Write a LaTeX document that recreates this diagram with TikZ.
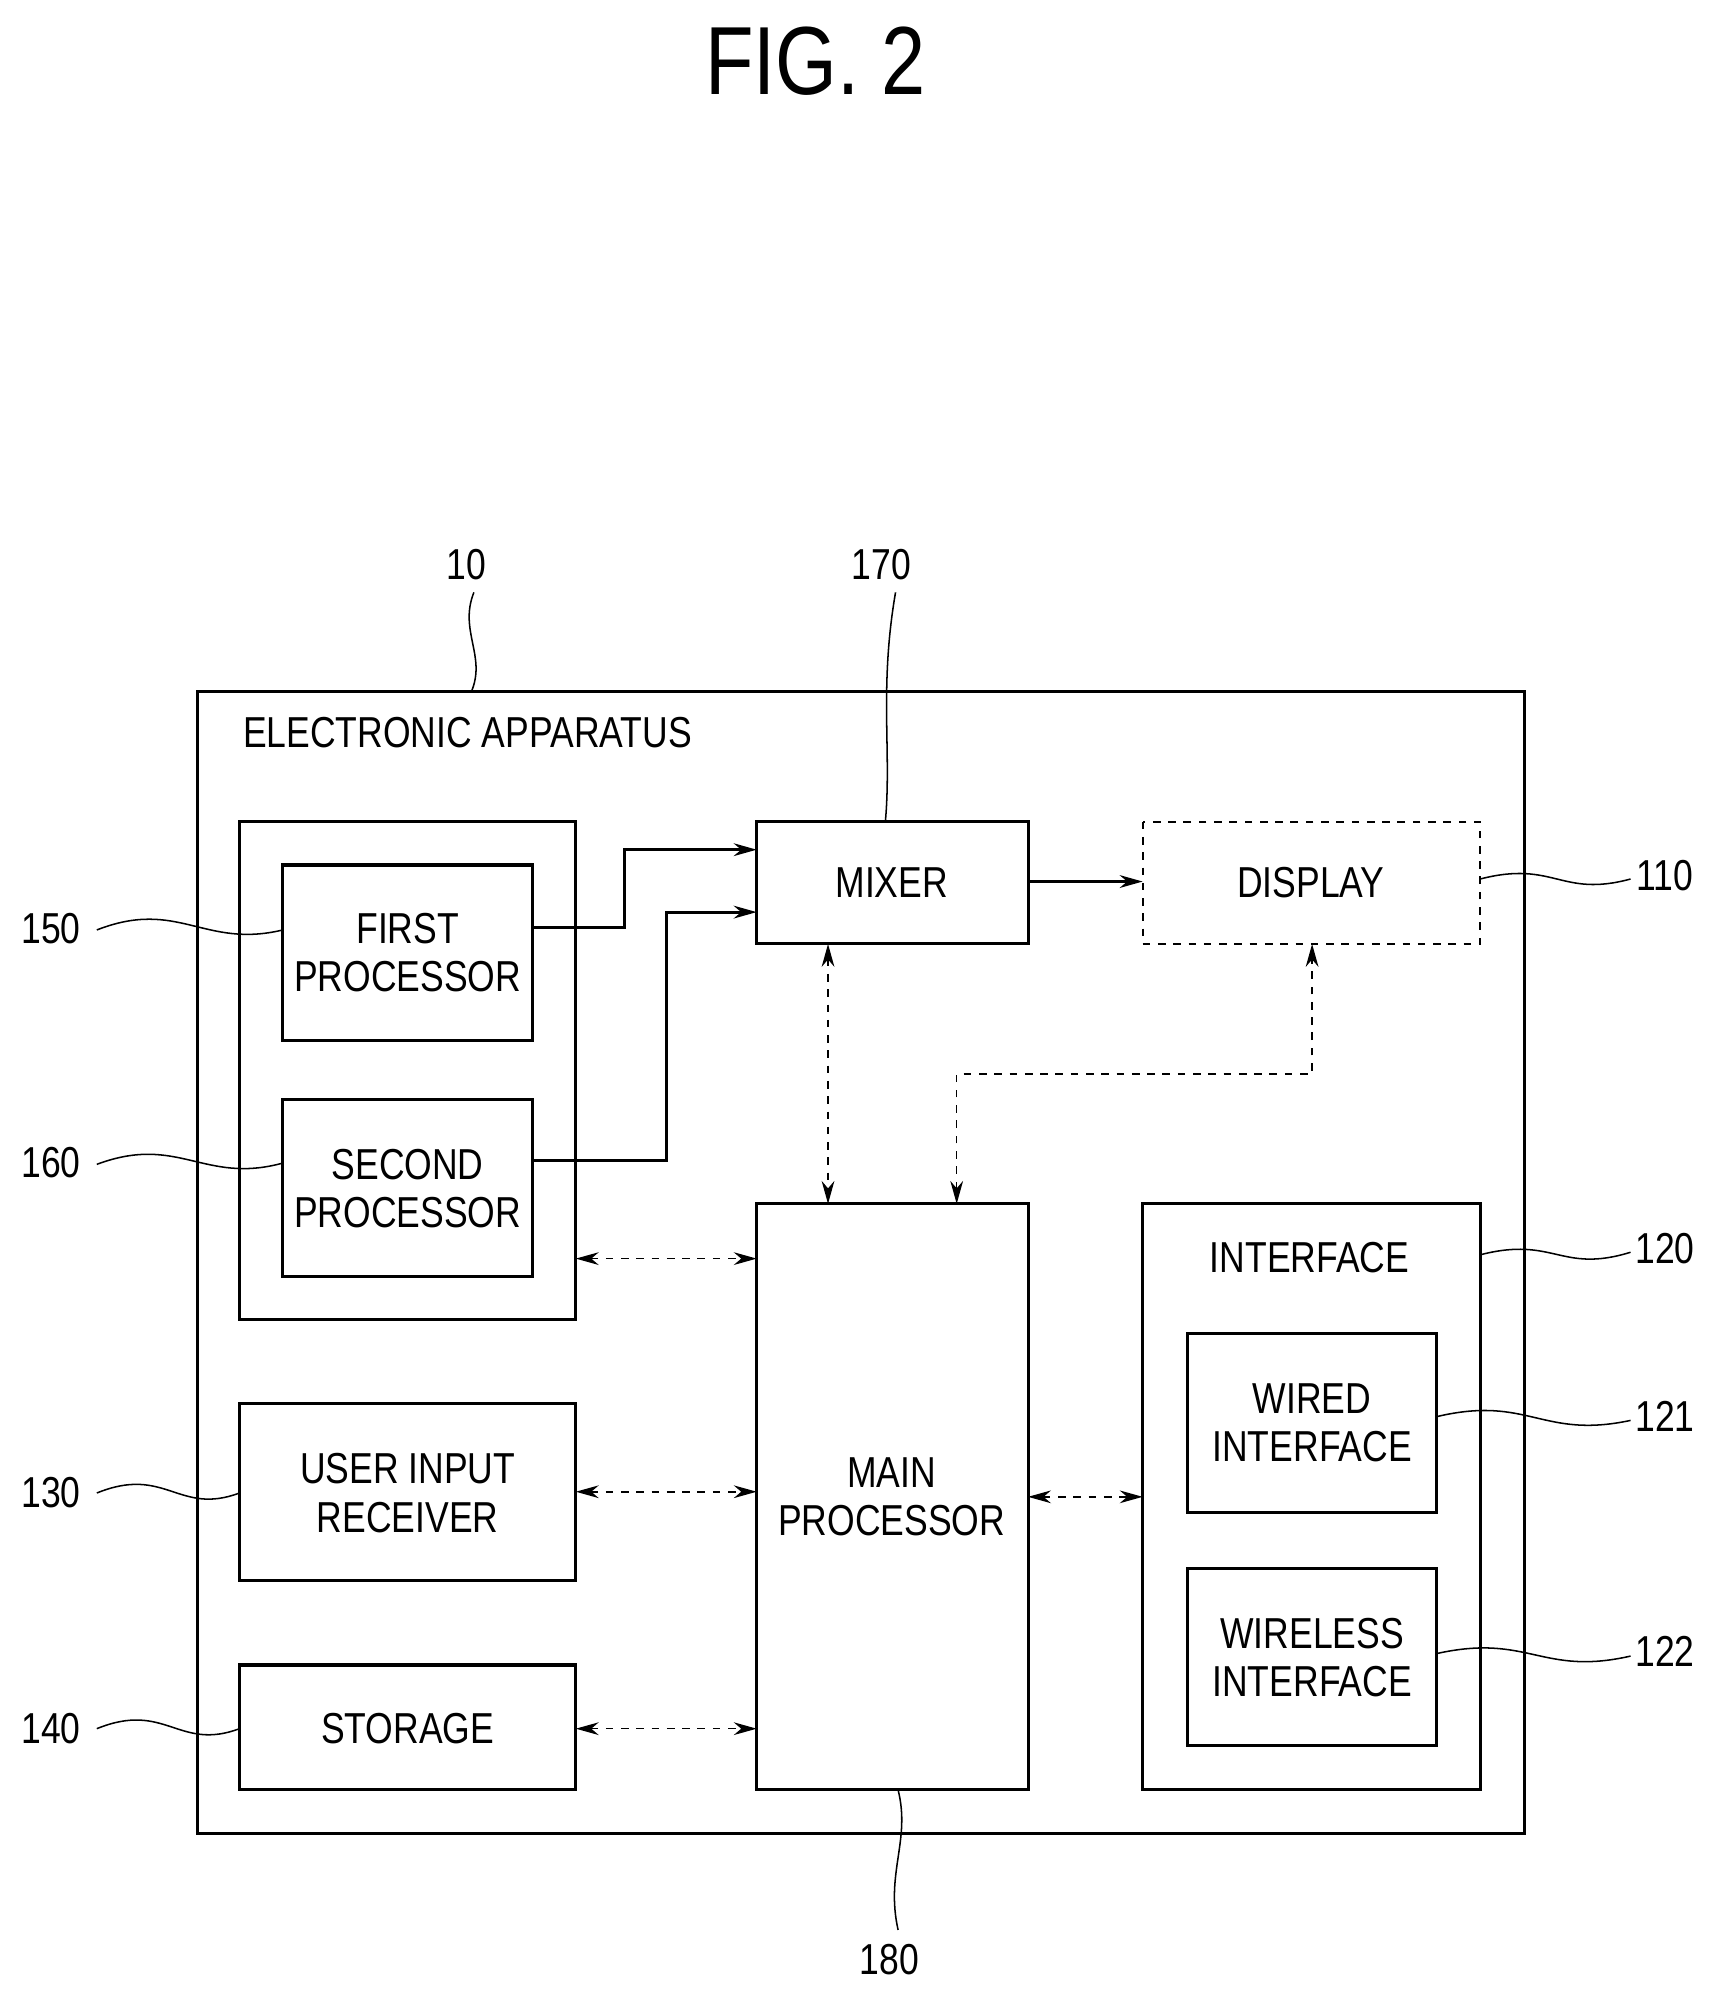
\documentclass[tikz,border=0pt]{standalone}
\usepackage{fontspec}
\setmainfont{Liberation Sans}[FakeStretch=0.82]
\usetikzlibrary{arrows.meta}
\tikzset{every picture/.style={line width=0.75pt}}
\tikzset{
  blk/.style={draw,line width=1.2pt,align=center,inner sep=0pt},
  txt/.style={font=\fontsize{17}{19}\selectfont,align=center},
  sol/.style={line width=1.2pt,-{Stealth[length=9pt,width=5pt]}},
  dsh/.style={dashed,line width=0.6pt,{Stealth[length=9pt,width=5pt]}-{Stealth[length=9pt,width=5pt]}},
  lead/.style={line width=0.6pt}
}
\begin{document}
\begin{tikzpicture}[x=0.5pt,y=0.5pt,yscale=-1,xscale=1]
\useasboundingbox (0,0) rectangle (1350,1570);

% Title
\node[font=\fontsize{38}{40}\selectfont] (title) at (640,48) {FIG. 2};

% Outer box
\draw[line width=1.2pt] (155,543) rectangle (1197,1439);
\node[txt] (app) at (367,575) {ELECTRONIC APPARATUS};

% Boxes
\draw[line width=1.2pt] (188,645) rectangle (452,1036);
\draw[line width=1.2pt] (222,679) rectangle (418,817);
\node[txt] (first) at (320,748) {FIRST\\PROCESSOR};
\draw[line width=1.2pt] (222,863) rectangle (418,1002);
\node[txt] (second) at (320,933) {SECOND\\PROCESSOR};
\draw[line width=1.2pt] (594,645) rectangle (807,741);
\node[txt] (mixer) at (700,693) {MIXER};
\draw[dashed,line width=0.8pt] (897,645) rectangle (1162,741);
\node[txt] (display) at (1029,693) {DISPLAY};
\draw[line width=1.2pt] (594,945) rectangle (807,1405);
\node[txt] (main) at (700,1175) {MAIN\\PROCESSOR};
\draw[line width=1.2pt] (897,945) rectangle (1162,1405);
\node[txt] (iface) at (1028,987) {INTERFACE};
\draw[line width=1.2pt] (932,1047) rectangle (1128,1187);
\node[txt] (wired) at (1030,1117) {WIRED\\INTERFACE};
\draw[line width=1.2pt] (932,1231) rectangle (1128,1370);
\node[txt] (wireless) at (1030,1301) {WIRELESS\\INTERFACE};
\draw[line width=1.2pt] (188,1102) rectangle (452,1241);
\node[txt] (user) at (320,1172) {USER INPUT\\RECEIVER};
\draw[line width=1.2pt] (188,1307) rectangle (452,1405);
\node[txt] (storage) at (320,1357) {STORAGE};

% Signal lines
\draw[sol] (418,728) -- (490,728) -- (490,667) -- (594,667);
\draw[sol] (418,911) -- (523,911) -- (523,716) -- (594,716);
\draw[sol] (807,692) -- (897,692);
\draw[dsh] (650,741) -- (650,945);
\draw[dsh] (751,945) -- (751,843) -- (1030,843) -- (1030,741);
\draw[dsh] (452,988) -- (594,988);
\draw[dsh] (452,1171) -- (594,1171);
\draw[dsh] (452,1357) -- (594,1357);
\draw[dsh] (807,1175) -- (897,1175);

% Reference numerals
\node[txt] (n10) at (366,443) {10};
\draw[lead] (372,465) .. controls (360,495) and (382,515) .. (370,543);
\node[txt] (n170) at (692,443) {170};
\draw[lead] (703,465) .. controls (690,540) and (700,590) .. (695,645);
\node[txt] (n110) at (1307,687) {110};
\draw[lead] (1162,690) .. controls (1220,675) and (1225,705) .. (1280,690);
\node[txt] (n120) at (1307,980) {120};
\draw[lead] (1162,985) .. controls (1220,970) and (1225,1000) .. (1280,983);
\node[txt] (n121) at (1307,1112) {121};
\draw[lead] (1128,1112) .. controls (1200,1095) and (1210,1130) .. (1280,1115);
\node[txt] (n122) at (1307,1296) {122};
\draw[lead] (1128,1298) .. controls (1200,1282) and (1210,1316) .. (1280,1300);
\node[txt] (n150) at (40,729) {150};
\draw[lead] (76,730) .. controls (140,705) and (160,745) .. (222,730);
\node[txt] (n160) at (40,913) {160};
\draw[lead] (76,914) .. controls (140,890) and (160,930) .. (222,913);
\node[txt] (n130) at (40,1172) {130};
\draw[lead] (76,1172) .. controls (130,1150) and (140,1190) .. (188,1172);
\node[txt] (n140) at (40,1357) {140};
\draw[lead] (76,1357) .. controls (130,1335) and (140,1375) .. (188,1357);
\node[txt] (n180) at (698,1538) {180};
\draw[lead] (705,1405) .. controls (715,1445) and (695,1470) .. (705,1515);

\end{tikzpicture}
\end{document}
